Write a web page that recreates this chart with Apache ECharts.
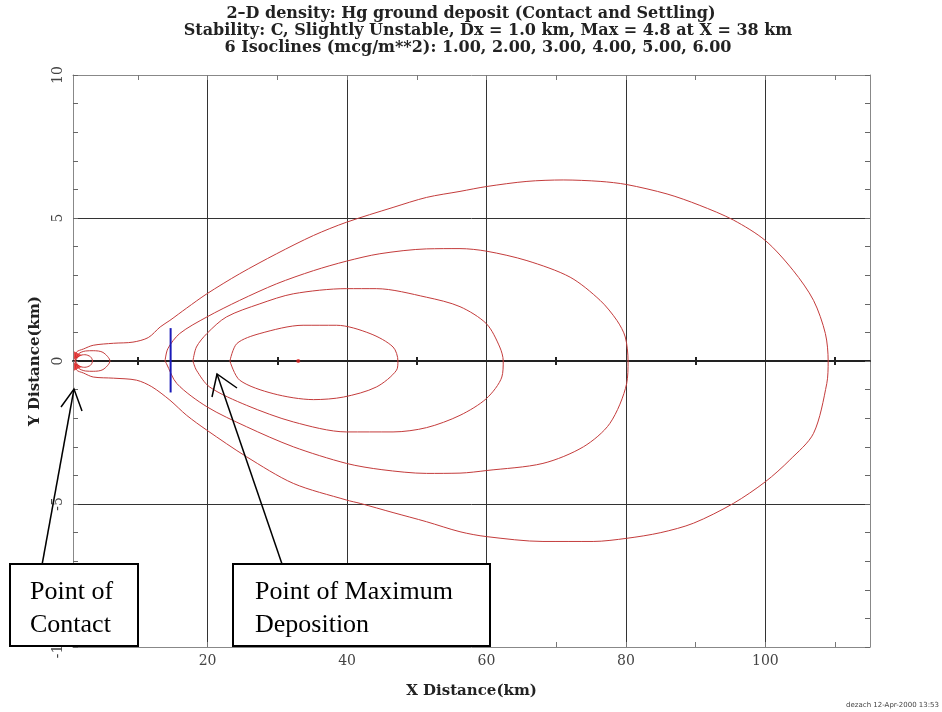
<!DOCTYPE html>
<html>
<head>
<meta charset="utf-8">
<script src="https://cdn.jsdelivr.net/npm/echarts@6/dist/echarts.min.js"></script>
<style>
html,body{margin:0;padding:0;background:#fff;}
#chart{width:942px;height:712px;}
</style>
</head>
<body>
<div id="chart"></div>
<script>
// ---- Data ----
const titleLines = [
  '2\u2013D density: Hg ground deposit (Contact and Settling)',
  'Stability: C, Slightly Unstable, Dx = 1.0 km, Max = 4.8 at X = 38 km',
  '6 Isoclines (mcg/m**2): 1.00, 2.00, 3.00, 4.00, 5.00, 6.00'
];
const xLabelValues = [20, 40, 60, 80, 100];
const xTickValues = [10, 20, 30, 40, 50, 60, 70, 80, 90, 100, 110];
const xCenterTickValues = [10, 30, 50, 70, 90, 110];
const xGridValues = [20, 40, 60, 80, 100];
const yLabelValues = [-10, -5, 0, 5, 10];
const yTickValues = [-10,-9,-8,-7,-6,-5,-4,-3,-2,-1,0,1,2,3,4,5,6,7,8,9,10];
const yGridValues = [-5, 5];

// isoline 1.00 (outer)
const iso1 = [[1.0,0],[1.2,0.31],[2.2,0.42],[3.6,0.55],[6.5,0.62],[9.3,0.66],[11.5,0.82],[13.2,1.19],[14.6,1.42],[17,1.85],[19.9,2.35],[24.6,3.05],[29.9,3.75],[35.2,4.39],[39.9,4.85],[46.6,5.37],[51.4,5.72],[56.2,5.93],[60,6.1],[65.8,6.28],[71,6.33],[76.3,6.28],[80.1,6.17],[85.9,5.84],[90.5,5.45],[95.4,4.93],[100,4.21],[104,3.16],[106.9,2.12],[108.6,0.96],[109,0],
  [108.8,-0.79],[106.9,-2.53],[103.5,-3.46],[100,-4.22],[95.4,-4.98],[89.7,-5.67],[85,-6.0],[80.1,-6.2],[75.3,-6.31],[68.1,-6.31],[60,-6.14],[56.2,-5.97],[51.4,-5.62],[46.6,-5.3],[41.9,-4.98],[39.9,-4.86],[32.3,-4.28],[25.6,-3.35],[19.9,-2.42],[17,-1.9],[14.6,-1.37],[12,-0.9],[9.8,-0.67],[6.5,-0.6],[3.6,-0.56],[2.2,-0.42],[1.2,-0.31],[1.0,0]];
// isoline 2.00
const iso2 = [[13.9,0],[14.3,0.43],[16.0,0.96],[19.9,1.54],[24.6,2.12],[29.9,2.7],[35.2,3.16],[39.9,3.49],[44.7,3.75],[51.4,3.92],[56.2,3.93],[60,3.84],[65.8,3.51],[72,2.93],[76.3,2.12],[78.7,1.42],[79.9,0.84],[80.3,0],
  [80.1,-0.79],[77.7,-2.18],[73.9,-3.0],[68.1,-3.58],[60,-3.83],[56.2,-3.92],[51.4,-3.93],[45,-3.8],[39.9,-3.58],[32.3,-3.0],[25.6,-2.3],[19.9,-1.6],[15.6,-0.79],[14.1,-0.09],[13.9,0]];
// isoline 3.00
const iso3 = [[17.9,0],[18.4,0.49],[19.9,0.96],[22.7,1.54],[27.5,2.0],[32.3,2.35],[39.9,2.53],[44.2,2.53],[51.4,2.23],[56.2,1.9],[60,1.3],[61.9,0.49],[62.4,0],
  [62.2,-0.56],[60,-1.31],[56.2,-1.9],[51.4,-2.33],[46.6,-2.48],[39.9,-2.48],[32.3,-2.13],[25.6,-1.55],[20.3,-0.91],[18.4,-0.32],[17.9,0]];
// isoline 4.00
const iso4 = [[23.2,0],[24.2,0.61],[27.5,0.96],[33.7,1.25],[38.5,1.25],[43.3,0.96],[46.6,0.49],[47.3,0],
  [47.1,-0.32],[44.2,-0.91],[39.5,-1.26],[35.2,-1.35],[29.4,-1.14],[24.6,-0.67],[23.2,0]];
// isolines 5.00 / 6.00 (small loops at the point of contact)
const iso5 = [[1.0,0],[1.5,0.25],[2.5,0.35],[3.6,0.36],[5,0.3],[6.0,0],[5,-0.3],[3.6,-0.36],[2.5,-0.35],[1.5,-0.25],[1.0,0]];
const iso6 = [[1.0,0],[1.6,0.18],[2.4,0.22],[3.2,0.15],[3.5,0],[3.2,-0.15],[2.4,-0.22],[1.6,-0.18],[1.0,0]];
const contactPoints = [[1.4,0.2],[1.4,-0.2]];
const maxPoint = [[33,0]];
const blueMarker = [[14.7,-1.1],[14.7,1.15]];

// ---- Chart ----
const FONT = 'DejaVu Serif';
const RED = '#c43c3c';
const chart = echarts.init(document.getElementById('chart'), null, {renderer: 'canvas'});

const common = {type: 'value', min: 0.7, max: 115, gridIndex: 0};
function lineSeries(name, data) {
  return {name, type: 'line', data, xAxisIndex: 0, yAxisIndex: 0, showSymbol: false, symbol: 'none',
    smooth: 0.3, lineStyle: {color: RED, width: 1}, silent: true, z: 5};
}
const titleFont = 'bold 16px "' + FONT + '"';

chart.setOption({
  animation: false,
  backgroundColor: '#fff',
  grid: {left: 73, top: 75, width: 797, height: 572, outerBoundsMode: 'none', containLabel: false},
  xAxis: [
    Object.assign({}, common, {
      position: 'bottom',
      axisLine: {show: true, onZero: false, lineStyle: {color: '#888', width: 1}},
      axisTick: {show: true, inside: true, length: 5, customValues: xTickValues, lineStyle: {color: '#777'}},
      axisLabel: {show: true, customValues: xLabelValues, margin: 7, fontFamily: FONT, fontSize: 14, color: '#444'},
      splitLine: {show: false},
      name: 'X Distance(km)', nameLocation: 'middle', nameGap: 37,
      nameTextStyle: {fontFamily: FONT, fontSize: 15, fontWeight: 'bold', color: '#222'}
    }),
    Object.assign({}, common, {
      position: 'top',
      axisLine: {show: true, onZero: false, lineStyle: {color: '#888', width: 1}},
      axisTick: {show: true, inside: true, length: 5, customValues: xTickValues, lineStyle: {color: '#777'}},
      axisLabel: {show: false}, splitLine: {show: false}
    }),
    Object.assign({}, common, {
      position: 'bottom',
      axisLine: {show: true, onZero: true, onZeroAxisIndex: 0, lineStyle: {color: '#222', width: 2}},
      axisTick: {show: true, inside: false, length: 4, customValues: xCenterTickValues, lineStyle: {color: '#222', width: 2}},
      axisLabel: {show: false}, splitLine: {show: false}
    }),
    Object.assign({}, common, {
      position: 'top',
      axisLine: {show: false, onZero: true, onZeroAxisIndex: 0},
      axisTick: {show: true, inside: false, length: 4, customValues: xCenterTickValues, lineStyle: {color: '#222', width: 2}},
      axisLabel: {show: false}, splitLine: {show: false}
    }),
    Object.assign({}, common, {
      position: 'bottom',
      axisLine: {show: false, onZero: false},
      axisTick: {show: false, customValues: xGridValues},
      axisLabel: {show: false},
      splitLine: {show: true, lineStyle: {color: '#333', width: 1}}
    })
  ],
  yAxis: [
    {type: 'value', min: -10, max: 10, position: 'left',
      axisLine: {show: true, onZero: false, lineStyle: {color: '#888', width: 1}},
      axisTick: {show: true, inside: true, length: 5, customValues: yTickValues, lineStyle: {color: '#666'}},
      axisLabel: {show: true, customValues: yLabelValues, rotate: 90, margin: 8, fontFamily: FONT, fontSize: 14, color: '#444'},
      splitLine: {show: false},
      name: 'Y Distance(km)', nameLocation: 'middle', nameGap: 30, nameRotate: 90,
      nameTextStyle: {fontFamily: FONT, fontSize: 15, fontWeight: 'bold', color: '#222'}
    },
    {type: 'value', min: -10, max: 10, position: 'right',
      axisLine: {show: true, onZero: false, lineStyle: {color: '#888', width: 1}},
      axisTick: {show: true, inside: true, length: 5, customValues: yTickValues, lineStyle: {color: '#666'}},
      axisLabel: {show: false}, splitLine: {show: false}
    },
    {type: 'value', min: -10, max: 10, position: 'left',
      axisLine: {show: false, onZero: false},
      axisTick: {show: false, customValues: yGridValues},
      axisLabel: {show: false},
      splitLine: {show: true, lineStyle: {color: '#333', width: 1}}
    }
  ],
  series: [
    lineSeries('1.00', iso1),
    lineSeries('2.00', iso2),
    lineSeries('3.00', iso3),
    lineSeries('4.00', iso4),
    lineSeries('5.00', iso5),
    lineSeries('6.00', iso6),
    {type: 'line', data: blueMarker, xAxisIndex: 0, yAxisIndex: 0, showSymbol: false, symbol: 'none',
      lineStyle: {color: '#1a1ab8', width: 2}, silent: true, z: 6},
    {type: 'scatter', data: contactPoints, xAxisIndex: 0, yAxisIndex: 0, symbol: 'triangle', symbolRotate: -90,
      symbolSize: 8, itemStyle: {color: '#e02020'}, silent: true, z: 7},
    {type: 'scatter', data: maxPoint, xAxisIndex: 0, yAxisIndex: 0, symbol: 'circle',
      symbolSize: 4, itemStyle: {color: '#e02020'}, silent: true, z: 7}
  ],
  graphic: [
    {type: 'text', x: 471, y: 14, style: {text: titleLines[0], font: titleFont, fill: '#222', textAlign: 'center', textVerticalAlign: 'middle'}},
    {type: 'text', x: 488, y: 31, style: {text: titleLines[1], font: titleFont, fill: '#222', textAlign: 'center', textVerticalAlign: 'middle'}},
    {type: 'text', x: 478, y: 48, style: {text: titleLines[2], font: titleFont, fill: '#222', textAlign: 'center', textVerticalAlign: 'middle'}},
    {type: 'text', x: 939, y: 705, style: {text: 'dezach 12-Apr-2000 13:53', font: '7px "DejaVu Sans"', fill: '#444', textAlign: 'right', textVerticalAlign: 'middle'}},
    // annotation arrows
    {type: 'polyline', z: 100, shape: {points: [[42, 565], [74, 389]]}, style: {stroke: '#000', lineWidth: 1.5, fill: null}},
    {type: 'polyline', z: 100, shape: {points: [[61, 407], [74, 389], [82, 411]]}, style: {stroke: '#000', lineWidth: 1.5, fill: null}},
    {type: 'polyline', z: 100, shape: {points: [[282, 564], [217, 374]]}, style: {stroke: '#000', lineWidth: 1.5, fill: null}},
    {type: 'polyline', z: 100, shape: {points: [[212, 397], [217, 374], [237, 388]]}, style: {stroke: '#000', lineWidth: 1.5, fill: null}},
    // annotation boxes
    {type: 'rect', z: 100, shape: {x: 10, y: 564, width: 128, height: 82}, style: {fill: '#fff', stroke: '#000', lineWidth: 2}},
    {type: 'text', z: 101, x: 30, y: 576, style: {text: 'Point of\nContact', font: '26px "Liberation Serif"', lineHeight: 33, fill: '#000'}},
    {type: 'rect', z: 100, shape: {x: 233, y: 564, width: 257, height: 82}, style: {fill: '#fff', stroke: '#000', lineWidth: 2}},
    {type: 'text', z: 101, x: 255, y: 576, style: {text: 'Point of Maximum\nDeposition', font: '26px "Liberation Serif"', lineHeight: 33, fill: '#000'}}
  ]
});
</script>
</body>
</html>
